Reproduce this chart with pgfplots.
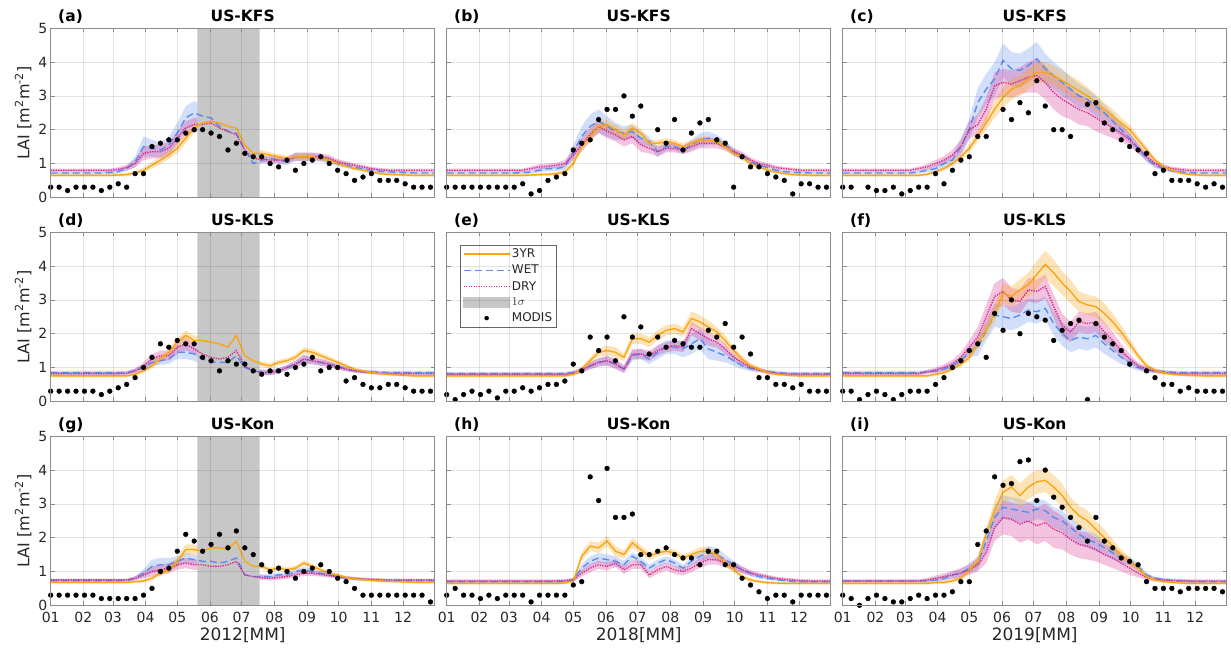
\documentclass[border=0pt]{standalone}
\usepackage{fontspec}
\setmainfont{DejaVu Sans}
\usepackage{pgfplots}
\pgfplotsset{compat=1.18}
\usepackage{pgfplotstable}
\usepgfplotslibrary{groupplots,fillbetween}

\definecolor{cA}{RGB}{250,165,20}
\definecolor{cW}{RGB}{90,140,240}
\definecolor{cD}{RGB}{215,40,140}
\definecolor{tk}{RGB}{38,38,38}
\definecolor{axc}{RGB}{140,140,140}
\newcommand{\fs}[1]{\fontsize{#1bp}{#1bp}\selectfont}

\pgfplotsset{
 legA/.style={legend image code/.code={\draw[cA, line width=1.6bp, solid] (0bp,0bp) -- (46bp,0bp);}},
 legW/.style={legend image code/.code={\draw[cW, line width=1.6bp, dash pattern=on 7bp off 4bp] (0bp,0bp) -- (46bp,0bp);}},
 legD/.style={legend image code/.code={\draw[cD, line width=1.6bp, dash pattern=on 1.3bp off 1.2bp] (0bp,0bp) -- (46bp,0bp);}},
 legS/.style={legend image code/.code={\fill[black!22] (0bp,-5bp) rectangle (46bp,5bp);}},
 legM/.style={legend image code/.code={\fill[black] (23bp,0bp) circle[radius=2bp];}},
 lA/.style={cA, line width=1.4bp},
 lW/.style={cW, line width=1.4bp, dash pattern=on 7bp off 4bp},
 lD/.style={cD, line width=1.4bp, dash pattern=on 1.3bp off 1.2bp},
 mM/.style={only marks, mark=*, mark size=2.4bp, black},
}

% x = day of year; m = MODIS; a = 3YR; w = WET; d = DRY; sa, sw, sd = 1 sigma
\pgfplotstableread{
x m a w d sa sw sd
1 0.3 0.65 0.72 0.80 0.04 0.04 0.05
9 0.3 0.65 0.72 0.80 0.04 0.04 0.05
17 0.2 0.65 0.72 0.80 0.04 0.04 0.05
25 0.3 0.65 0.72 0.80 0.04 0.04 0.05
33 0.3 0.65 0.72 0.80 0.04 0.04 0.05
41 0.3 0.65 0.72 0.80 0.04 0.04 0.05
49 0.2 0.65 0.72 0.80 0.04 0.04 0.05
57 0.3 0.65 0.73 0.80 0.04 0.05 0.05
65 0.4 0.66 0.76 0.83 0.04 0.06 0.06
73 0.3 0.67 0.85 0.88 0.05 0.08 0.08
81 0.7 0.72 1.05 1.00 0.06 0.15 0.12
89 0.7 0.80 1.50 1.30 0.08 0.30 0.20
97 1.5 0.95 1.45 1.35 0.10 0.25 0.20
105 1.6 1.10 1.40 1.35 0.12 0.22 0.20
113 1.7 1.25 1.55 1.45 0.12 0.25 0.20
121 1.7 1.45 1.90 1.75 0.15 0.30 0.20
129 1.9 1.75 2.35 2.05 0.15 0.35 0.20
137 2.0 2.05 2.50 2.15 0.15 0.35 0.20
145 2.0 2.20 2.40 2.15 0.15 0.30 0.20
153 1.9 2.25 2.35 2.20 0.15 0.30 0.20
161 1.8 2.20 2.10 2.05 0.15 0.25 0.20
169 1.4 2.10 1.95 1.95 0.15 0.25 0.20
177 1.6 2.05 1.90 1.85 0.15 0.25 0.20
185 1.3 1.55 1.40 1.40 0.12 0.15 0.15
193 1.2 1.30 1.00 1.15 0.10 0.10 0.10
201 1.2 1.30 1.10 1.12 0.10 0.10 0.10
209 1.0 1.25 1.15 1.10 0.08 0.10 0.10
217 0.9 1.20 1.10 1.10 0.08 0.10 0.10
225 1.1 1.15 1.05 1.10 0.08 0.10 0.10
233 0.8 1.20 1.20 1.20 0.08 0.12 0.12
241 1.0 1.20 1.20 1.20 0.08 0.12 0.12
249 1.1 1.20 1.20 1.20 0.08 0.12 0.12
257 1.2 1.15 1.15 1.20 0.08 0.10 0.10
265 1.0 1.10 1.10 1.15 0.07 0.10 0.10
273 0.8 1.00 1.00 1.05 0.06 0.08 0.08
281 0.7 0.92 0.95 1.00 0.05 0.07 0.07
289 0.5 0.85 0.88 0.95 0.05 0.06 0.06
297 0.6 0.80 0.85 0.90 0.04 0.05 0.06
305 0.7 0.75 0.80 0.85 0.04 0.05 0.05
313 0.5 0.70 0.77 0.82 0.04 0.05 0.05
321 0.5 0.68 0.75 0.80 0.04 0.04 0.05
329 0.5 0.67 0.74 0.80 0.04 0.04 0.05
337 0.4 0.66 0.73 0.80 0.04 0.04 0.05
345 0.3 0.65 0.72 0.80 0.04 0.04 0.05
353 0.3 0.65 0.72 0.80 0.04 0.04 0.05
361 0.3 0.65 0.72 0.80 0.04 0.04 0.05
365 nan 0.65 0.72 0.80 0.04 0.04 0.05
}\tA

\pgfplotstableread{
x m a w d sa sw sd
1 0.3 0.65 0.72 0.80 0.04 0.04 0.05
9 0.3 0.65 0.72 0.80 0.04 0.04 0.05
17 0.3 0.65 0.72 0.80 0.04 0.04 0.05
25 0.3 0.65 0.72 0.80 0.04 0.04 0.05
33 0.3 0.65 0.72 0.80 0.04 0.04 0.05
41 0.3 0.65 0.72 0.80 0.04 0.04 0.05
49 0.3 0.65 0.72 0.80 0.04 0.04 0.05
57 0.3 0.65 0.72 0.80 0.04 0.04 0.05
65 0.3 0.65 0.72 0.80 0.04 0.04 0.05
73 0.4 0.65 0.73 0.80 0.04 0.04 0.05
81 0.1 0.66 0.75 0.85 0.04 0.05 0.06
89 0.2 0.67 0.80 0.90 0.04 0.06 0.08
97 0.5 0.68 0.85 0.92 0.05 0.08 0.08
105 0.6 0.70 0.85 0.95 0.05 0.08 0.08
113 0.7 0.75 0.90 1.00 0.06 0.10 0.10
121 1.4 1.00 1.35 1.25 0.10 0.20 0.15
129 1.6 1.50 1.80 1.55 0.12 0.30 0.20
137 1.7 1.80 2.10 1.85 0.15 0.35 0.20
145 2.3 2.10 2.25 2.10 0.15 0.35 0.20
153 2.6 2.15 2.10 1.95 0.15 0.30 0.20
161 2.6 2.00 1.95 1.85 0.15 0.25 0.20
169 3.0 1.85 1.90 1.70 0.15 0.20 0.20
177 2.4 2.05 1.95 1.80 0.15 0.20 0.20
185 2.7 1.90 1.75 1.55 0.12 0.20 0.20
193 nan 1.60 1.65 1.45 0.10 0.15 0.15
201 2.0 1.60 1.35 1.35 0.10 0.15 0.15
209 1.6 1.65 1.50 1.45 0.10 0.12 0.12
217 2.3 1.60 1.50 1.45 0.10 0.12 0.12
225 1.4 1.50 1.40 1.40 0.10 0.12 0.12
233 1.9 1.60 1.55 1.50 0.10 0.15 0.15
241 2.2 1.70 1.70 1.60 0.10 0.20 0.15
249 2.3 1.70 1.75 1.60 0.10 0.20 0.15
257 1.7 1.65 1.70 1.60 0.10 0.15 0.15
265 1.6 1.50 1.55 1.50 0.10 0.12 0.12
273 0.3 1.30 1.35 1.35 0.08 0.10 0.10
281 1.2 1.20 1.20 1.25 0.08 0.10 0.10
289 0.9 1.00 1.05 1.10 0.06 0.08 0.08
297 0.9 0.90 0.95 1.00 0.05 0.06 0.08
305 0.7 0.80 0.88 0.95 0.05 0.05 0.06
313 0.6 0.75 0.80 0.88 0.04 0.05 0.06
321 0.5 0.70 0.76 0.85 0.04 0.04 0.05
329 0.1 0.67 0.74 0.82 0.04 0.04 0.05
337 0.4 0.66 0.73 0.80 0.04 0.04 0.05
345 0.4 0.65 0.72 0.80 0.04 0.04 0.05
353 0.3 0.65 0.72 0.80 0.04 0.04 0.05
361 0.3 0.65 0.72 0.80 0.04 0.04 0.05
365 nan 0.65 0.72 0.80 0.04 0.04 0.05
}\tB

\pgfplotstableread{
x m a w d sa sw sd
1 0.3 0.65 0.72 0.80 0.04 0.04 0.05
9 0.3 0.65 0.72 0.80 0.04 0.04 0.05
17 nan 0.65 0.72 0.80 0.04 0.04 0.05
25 0.3 0.65 0.72 0.80 0.04 0.04 0.05
33 0.2 0.65 0.72 0.80 0.04 0.04 0.05
41 0.2 0.65 0.72 0.80 0.04 0.04 0.05
49 0.3 0.65 0.72 0.80 0.04 0.04 0.05
57 0.1 0.65 0.72 0.80 0.04 0.04 0.05
65 0.2 0.65 0.72 0.80 0.04 0.04 0.05
73 0.3 0.65 0.75 0.85 0.04 0.05 0.06
81 0.3 0.68 0.80 0.90 0.04 0.06 0.08
89 0.7 0.75 0.85 1.00 0.05 0.10 0.10
97 0.4 0.85 1.00 1.10 0.06 0.12 0.12
105 0.8 1.00 1.10 1.25 0.08 0.15 0.15
113 1.1 1.20 1.50 1.50 0.10 0.25 0.20
121 1.2 1.45 2.00 2.00 0.12 0.30 0.25
129 1.8 1.80 2.80 2.15 0.15 0.45 0.30
137 1.8 2.20 3.20 2.60 0.20 0.45 0.35
145 nan 2.60 3.50 3.30 0.25 0.50 0.40
153 2.6 2.95 4.05 3.40 0.30 0.50 0.40
161 2.3 3.20 3.80 3.35 0.30 0.50 0.40
169 2.8 3.30 3.75 3.45 0.30 0.50 0.40
177 2.5 3.50 3.90 3.55 0.30 0.50 0.45
185 3.45 3.70 4.10 3.60 0.30 0.50 0.50
193 2.7 3.70 3.80 3.40 0.30 0.45 0.50
201 2.0 3.60 3.60 3.10 0.30 0.40 0.50
209 2.0 3.45 3.40 2.90 0.30 0.40 0.50
217 1.8 3.30 3.20 2.75 0.30 0.35 0.45
225 nan 3.15 3.00 2.60 0.30 0.35 0.45
233 2.75 3.00 2.90 2.50 0.25 0.30 0.40
241 2.8 2.80 2.70 2.35 0.25 0.30 0.40
249 2.2 2.60 2.50 2.20 0.20 0.25 0.35
257 2.0 2.40 2.25 2.05 0.20 0.25 0.30
265 1.7 2.20 2.00 1.90 0.15 0.20 0.25
273 1.5 2.00 1.75 1.70 0.15 0.15 0.20
281 1.4 1.70 1.45 1.45 0.12 0.12 0.15
289 1.3 1.40 1.15 1.20 0.10 0.10 0.12
297 0.7 1.10 0.95 1.00 0.08 0.08 0.10
305 0.8 0.90 0.85 0.90 0.06 0.06 0.08
313 0.5 0.80 0.78 0.85 0.05 0.05 0.06
321 0.5 0.72 0.75 0.82 0.04 0.05 0.05
329 0.5 0.68 0.73 0.80 0.04 0.04 0.05
337 0.4 0.66 0.72 0.80 0.04 0.04 0.05
345 0.3 0.65 0.72 0.80 0.04 0.04 0.05
353 0.4 0.65 0.72 0.80 0.04 0.04 0.05
361 0.3 0.65 0.72 0.80 0.04 0.04 0.05
365 nan 0.65 0.72 0.80 0.04 0.04 0.05
}\tC

\pgfplotstableread{
x m a w d sa sw sd
1 0.3 0.75 0.85 0.82 0.04 0.05 0.05
9 0.3 0.75 0.85 0.82 0.04 0.05 0.05
17 0.3 0.75 0.85 0.82 0.04 0.05 0.05
25 0.3 0.75 0.85 0.82 0.04 0.05 0.05
33 0.3 0.75 0.85 0.82 0.04 0.05 0.05
41 0.3 0.75 0.85 0.82 0.04 0.05 0.05
49 0.2 0.75 0.85 0.82 0.04 0.05 0.05
57 0.3 0.75 0.85 0.82 0.04 0.05 0.05
65 0.4 0.75 0.85 0.82 0.04 0.05 0.05
73 0.5 0.75 0.85 0.83 0.04 0.05 0.05
81 0.7 0.80 0.90 0.90 0.05 0.06 0.08
89 1.0 0.90 1.00 1.05 0.06 0.08 0.10
97 1.3 1.05 1.15 1.25 0.08 0.10 0.15
105 1.7 1.25 1.20 1.35 0.10 0.12 0.15
113 1.6 1.45 1.25 1.35 0.10 0.15 0.15
121 1.8 1.75 1.45 1.60 0.12 0.20 0.20
129 1.7 1.95 1.45 1.70 0.15 0.20 0.20
137 1.7 1.80 1.40 1.55 0.15 0.20 0.15
145 1.3 1.80 1.25 1.40 0.12 0.20 0.15
153 1.2 1.75 1.15 1.30 0.12 0.15 0.12
161 0.9 1.70 1.15 1.25 0.12 0.15 0.12
169 1.2 1.60 1.15 1.30 0.12 0.12 0.12
177 1.1 1.95 1.35 1.50 0.15 0.15 0.15
185 1.1 1.35 1.00 1.05 0.10 0.10 0.10
193 0.9 1.20 0.90 0.90 0.10 0.08 0.08
201 0.8 1.10 0.87 0.85 0.08 0.08 0.08
209 0.9 1.05 0.85 0.85 0.08 0.08 0.08
217 0.9 1.15 0.90 0.90 0.08 0.08 0.08
225 0.8 1.20 1.00 1.00 0.08 0.08 0.08
233 1.0 1.30 1.10 1.10 0.08 0.10 0.10
241 1.1 1.50 1.25 1.25 0.10 0.12 0.12
249 1.3 1.45 1.20 1.20 0.10 0.10 0.10
257 0.9 1.35 1.15 1.15 0.08 0.10 0.10
265 1.0 1.25 1.10 1.10 0.08 0.08 0.08
273 1.0 1.15 1.05 1.00 0.07 0.07 0.07
281 0.6 1.05 0.95 0.95 0.06 0.06 0.06
289 0.7 0.95 0.90 0.90 0.05 0.05 0.05
297 0.5 0.90 0.88 0.87 0.04 0.05 0.05
305 0.4 0.85 0.87 0.85 0.04 0.05 0.05
313 0.4 0.82 0.86 0.83 0.04 0.05 0.05
321 0.5 0.80 0.85 0.82 0.04 0.05 0.05
329 0.5 0.78 0.85 0.82 0.04 0.05 0.05
337 0.4 0.77 0.85 0.82 0.04 0.05 0.05
345 0.3 0.75 0.85 0.82 0.04 0.05 0.05
353 0.3 0.75 0.85 0.82 0.04 0.05 0.05
361 0.3 0.75 0.85 0.82 0.04 0.05 0.05
365 nan 0.75 0.85 0.82 0.04 0.05 0.05
}\tD

\pgfplotstableread{
x m a w d sa sw sd
1 0.2 0.75 0.82 0.80 0.04 0.05 0.05
9 0.05 0.75 0.82 0.80 0.04 0.05 0.05
17 0.2 0.75 0.82 0.80 0.04 0.05 0.05
25 0.3 0.75 0.82 0.80 0.04 0.05 0.05
33 0.2 0.75 0.82 0.80 0.04 0.05 0.05
41 0.3 0.75 0.82 0.80 0.04 0.05 0.05
49 0.1 0.75 0.82 0.80 0.04 0.05 0.05
57 0.3 0.75 0.82 0.80 0.04 0.05 0.05
65 0.3 0.75 0.82 0.80 0.04 0.05 0.05
73 0.4 0.75 0.82 0.80 0.04 0.05 0.05
81 0.3 0.75 0.82 0.80 0.04 0.05 0.05
89 0.4 0.75 0.82 0.80 0.04 0.05 0.05
97 0.5 0.75 0.82 0.80 0.04 0.05 0.05
105 0.5 0.75 0.82 0.80 0.04 0.05 0.05
113 0.6 0.75 0.82 0.80 0.04 0.05 0.05
121 1.1 0.80 0.85 0.83 0.05 0.06 0.06
129 0.9 0.95 0.92 0.92 0.08 0.08 0.08
137 1.9 1.20 1.05 1.05 0.10 0.10 0.10
145 1.5 1.45 1.15 1.15 0.12 0.12 0.12
153 1.9 1.50 1.20 1.20 0.15 0.12 0.15
161 1.2 1.45 1.10 1.10 0.15 0.12 0.15
169 2.5 1.30 0.95 0.95 0.12 0.10 0.12
177 1.9 1.85 1.35 1.40 0.15 0.15 0.15
185 2.2 1.85 1.40 1.40 0.15 0.15 0.15
193 1.4 1.75 1.25 1.35 0.15 0.15 0.15
201 1.9 1.95 1.45 1.50 0.15 0.20 0.15
209 1.6 2.10 1.60 1.60 0.15 0.20 0.15
217 1.8 2.15 1.60 1.65 0.15 0.20 0.15
225 1.7 2.05 1.55 1.60 0.15 0.25 0.15
233 1.6 2.45 1.70 2.15 0.20 0.30 0.20
241 1.6 2.35 1.85 2.00 0.20 0.30 0.20
249 2.1 2.20 1.55 1.85 0.20 0.30 0.20
257 1.9 2.05 1.45 1.75 0.15 0.25 0.15
265 2.3 1.80 1.35 1.55 0.15 0.20 0.15
273 1.6 1.50 1.20 1.30 0.12 0.15 0.12
281 1.9 1.25 1.05 1.15 0.10 0.10 0.10
289 1.4 1.05 0.97 1.00 0.08 0.08 0.08
297 0.7 0.95 0.92 0.93 0.06 0.06 0.06
305 0.7 0.85 0.88 0.87 0.05 0.05 0.05
313 0.5 0.80 0.85 0.83 0.04 0.05 0.05
321 0.5 0.78 0.83 0.81 0.04 0.05 0.05
329 0.4 0.76 0.82 0.80 0.04 0.05 0.05
337 0.5 0.75 0.82 0.80 0.04 0.05 0.05
345 0.3 0.75 0.82 0.80 0.04 0.05 0.05
353 0.3 0.75 0.82 0.80 0.04 0.05 0.05
361 0.3 0.75 0.82 0.80 0.04 0.05 0.05
365 nan 0.75 0.82 0.80 0.04 0.05 0.05
}\tE

\pgfplotstableread{
x m a w d sa sw sd
1 0.3 0.75 0.85 0.82 0.04 0.05 0.05
9 0.3 0.75 0.85 0.82 0.04 0.05 0.05
17 0.05 0.75 0.85 0.82 0.04 0.05 0.05
25 0.2 0.75 0.85 0.82 0.04 0.05 0.05
33 0.3 0.75 0.85 0.82 0.04 0.05 0.05
41 0.2 0.75 0.85 0.82 0.04 0.05 0.05
49 0.05 0.75 0.85 0.82 0.04 0.05 0.05
57 0.2 0.75 0.85 0.82 0.04 0.05 0.05
65 0.3 0.75 0.85 0.82 0.04 0.05 0.05
73 0.3 0.75 0.85 0.82 0.04 0.05 0.05
81 0.3 0.75 0.87 0.87 0.04 0.05 0.06
89 0.5 0.80 0.90 0.92 0.05 0.06 0.08
97 0.7 0.85 0.95 1.00 0.05 0.08 0.10
105 1.0 0.95 1.05 1.10 0.06 0.10 0.12
113 1.2 1.10 1.20 1.30 0.08 0.12 0.15
121 1.5 1.30 1.45 1.60 0.10 0.15 0.20
129 1.7 1.70 1.60 1.90 0.15 0.25 0.30
137 1.3 2.10 2.10 2.50 0.20 0.30 0.35
145 2.6 2.60 2.55 3.10 0.25 0.35 0.40
153 2.1 3.20 2.50 3.25 0.30 0.35 0.40
161 3.0 3.10 2.45 3.00 0.30 0.35 0.35
169 2.0 3.30 2.55 2.95 0.30 0.35 0.35
177 2.6 3.45 2.70 3.30 0.35 0.35 0.35
185 2.5 3.75 2.65 3.25 0.40 0.35 0.35
193 2.4 4.05 2.75 3.40 0.40 0.35 0.35
201 1.8 3.80 2.30 2.80 0.40 0.35 0.35
209 2.1 3.50 2.00 2.25 0.35 0.35 0.35
217 2.3 3.25 1.80 2.05 0.35 0.35 0.30
225 2.4 2.95 1.90 2.35 0.30 0.35 0.30
233 0.05 2.85 1.85 2.30 0.30 0.35 0.30
241 2.3 2.80 1.95 2.35 0.30 0.35 0.30
249 1.9 2.60 1.70 2.05 0.30 0.30 0.30
257 1.7 2.35 1.50 1.80 0.25 0.25 0.25
265 1.5 2.05 1.30 1.50 0.20 0.20 0.20
273 1.1 1.70 1.15 1.25 0.15 0.15 0.15
281 nan 1.35 1.00 1.05 0.10 0.10 0.10
289 0.9 1.05 0.93 0.95 0.08 0.08 0.08
297 0.7 0.92 0.90 0.90 0.06 0.06 0.06
305 0.5 0.85 0.88 0.85 0.05 0.05 0.05
313 0.5 0.80 0.86 0.83 0.04 0.05 0.05
321 0.3 0.78 0.85 0.82 0.04 0.05 0.05
329 0.4 0.77 0.85 0.82 0.04 0.05 0.05
337 0.3 0.76 0.85 0.82 0.04 0.05 0.05
345 0.3 0.75 0.85 0.82 0.04 0.05 0.05
353 0.3 0.75 0.85 0.82 0.04 0.05 0.05
361 0.3 0.75 0.85 0.82 0.04 0.05 0.05
365 nan 0.75 0.85 0.82 0.04 0.05 0.05
}\tF

\pgfplotstableread{
x m a w d sa sw sd
1 0.3 0.68 0.73 0.75 0.04 0.04 0.04
9 0.3 0.68 0.73 0.75 0.04 0.04 0.04
17 0.3 0.68 0.73 0.75 0.04 0.04 0.04
25 0.3 0.68 0.73 0.75 0.04 0.04 0.04
33 0.3 0.68 0.73 0.75 0.04 0.04 0.04
41 0.3 0.68 0.73 0.75 0.04 0.04 0.04
49 0.2 0.68 0.73 0.75 0.04 0.04 0.04
57 0.2 0.68 0.73 0.75 0.04 0.04 0.04
65 0.2 0.68 0.73 0.75 0.04 0.04 0.04
73 0.2 0.68 0.73 0.75 0.04 0.04 0.04
81 0.2 0.70 0.80 0.80 0.04 0.06 0.06
89 0.3 0.72 0.95 0.90 0.05 0.12 0.10
97 0.5 0.80 1.15 1.00 0.06 0.20 0.15
105 1.0 0.95 1.20 1.05 0.08 0.20 0.15
113 1.1 1.05 1.20 1.10 0.10 0.20 0.15
121 1.6 1.30 1.30 1.20 0.12 0.15 0.15
129 2.1 1.65 1.40 1.25 0.15 0.15 0.15
137 1.9 1.65 1.35 1.20 0.15 0.15 0.15
145 1.6 1.60 1.30 1.20 0.12 0.15 0.15
153 1.8 1.70 1.30 1.15 0.12 0.15 0.15
161 2.1 1.70 1.25 1.15 0.12 0.15 0.15
169 1.7 1.65 1.30 1.20 0.12 0.15 0.15
177 2.2 1.90 1.40 1.30 0.15 0.15 0.15
185 1.7 1.30 0.90 0.90 0.10 0.08 0.08
193 1.5 1.15 0.85 0.85 0.08 0.07 0.07
201 1.2 1.15 0.85 0.82 0.08 0.07 0.07
209 1.0 1.05 0.85 0.80 0.07 0.07 0.07
217 1.1 1.10 0.90 0.82 0.07 0.07 0.07
225 1.0 1.05 0.90 0.85 0.07 0.07 0.07
233 0.8 1.10 1.00 0.90 0.07 0.08 0.08
241 1.0 1.25 1.05 0.95 0.08 0.08 0.08
249 1.1 1.15 1.00 0.95 0.07 0.08 0.08
257 1.2 1.05 0.95 0.92 0.06 0.07 0.07
265 1.0 0.95 0.90 0.88 0.05 0.06 0.06
273 0.8 0.90 0.85 0.85 0.05 0.05 0.05
281 0.7 0.82 0.80 0.82 0.04 0.05 0.05
289 0.5 0.78 0.78 0.80 0.04 0.04 0.04
297 0.3 0.76 0.76 0.78 0.04 0.04 0.04
305 0.3 0.74 0.75 0.77 0.04 0.04 0.04
313 0.3 0.72 0.74 0.76 0.04 0.04 0.04
321 0.3 0.71 0.73 0.75 0.04 0.04 0.04
329 0.3 0.70 0.73 0.75 0.04 0.04 0.04
337 0.3 0.69 0.73 0.75 0.04 0.04 0.04
345 0.3 0.68 0.73 0.75 0.04 0.04 0.04
353 0.3 0.68 0.73 0.75 0.04 0.04 0.04
361 0.1 0.68 0.73 0.75 0.04 0.04 0.04
365 nan 0.68 0.73 0.75 0.04 0.04 0.04
}\tG

\pgfplotstableread{
x m a w d sa sw sd
1 0.3 0.65 0.70 0.72 0.04 0.04 0.05
9 0.5 0.65 0.70 0.72 0.04 0.04 0.05
17 0.3 0.65 0.70 0.72 0.04 0.04 0.05
25 0.3 0.65 0.70 0.72 0.04 0.04 0.05
33 0.2 0.65 0.70 0.72 0.04 0.04 0.05
41 0.3 0.65 0.70 0.72 0.04 0.04 0.05
49 0.2 0.65 0.70 0.72 0.04 0.04 0.05
57 0.3 0.65 0.70 0.72 0.04 0.04 0.05
65 0.3 0.65 0.70 0.72 0.04 0.04 0.05
73 0.3 0.65 0.70 0.72 0.04 0.04 0.05
81 0.1 0.65 0.70 0.72 0.04 0.04 0.05
89 0.3 0.65 0.70 0.72 0.04 0.04 0.05
97 0.3 0.65 0.70 0.72 0.04 0.04 0.05
105 0.3 0.65 0.70 0.72 0.04 0.04 0.05
113 0.3 0.66 0.71 0.73 0.04 0.04 0.05
121 0.6 0.72 0.75 0.75 0.05 0.06 0.06
129 0.7 1.45 1.10 0.95 0.12 0.12 0.10
137 3.8 1.75 1.30 1.10 0.15 0.15 0.12
145 3.1 1.70 1.40 1.20 0.15 0.15 0.12
153 4.05 1.90 1.35 1.15 0.15 0.15 0.12
161 2.6 1.60 1.30 1.25 0.15 0.15 0.12
169 2.6 1.50 1.20 1.05 0.12 0.12 0.12
177 2.7 1.85 1.45 1.20 0.15 0.12 0.12
185 1.5 1.65 1.30 1.20 0.12 0.12 0.12
193 1.5 1.45 1.10 0.90 0.12 0.10 0.10
201 1.6 1.55 1.25 1.05 0.10 0.10 0.12
209 1.7 1.60 1.35 1.15 0.10 0.10 0.12
217 1.5 1.55 1.25 1.05 0.10 0.10 0.12
225 1.4 1.40 1.10 1.00 0.10 0.10 0.12
233 1.4 1.50 1.30 1.10 0.10 0.12 0.12
241 1.2 1.60 1.45 1.25 0.12 0.15 0.15
249 1.6 1.60 1.55 1.35 0.12 0.20 0.15
257 1.6 1.50 1.50 1.35 0.12 0.20 0.15
265 1.2 1.25 1.35 1.25 0.10 0.15 0.12
273 1.2 1.05 1.20 1.15 0.08 0.12 0.12
281 0.8 0.85 1.05 1.05 0.06 0.10 0.10
289 0.6 0.75 0.95 0.95 0.05 0.08 0.08
297 0.4 0.70 0.85 0.90 0.04 0.06 0.07
305 0.2 0.67 0.80 0.85 0.04 0.05 0.06
313 0.3 0.66 0.76 0.80 0.04 0.04 0.05
321 0.3 0.65 0.73 0.77 0.04 0.04 0.05
329 0.1 0.65 0.71 0.75 0.04 0.04 0.05
337 0.3 0.65 0.70 0.73 0.04 0.04 0.05
345 0.3 0.65 0.70 0.72 0.04 0.04 0.05
353 0.3 0.65 0.70 0.72 0.04 0.04 0.05
361 0.3 0.65 0.70 0.72 0.04 0.04 0.05
365 nan 0.65 0.70 0.72 0.04 0.04 0.05
}\tH

\pgfplotstableread{
x m a w d sa sw sd
1 0.3 0.65 0.72 0.72 0.04 0.04 0.05
9 0.2 0.65 0.72 0.72 0.04 0.04 0.05
17 0.0 0.65 0.72 0.72 0.04 0.04 0.05
25 0.2 0.65 0.72 0.72 0.04 0.04 0.05
33 0.3 0.65 0.72 0.72 0.04 0.04 0.05
41 0.2 0.65 0.72 0.72 0.04 0.04 0.05
49 0.1 0.65 0.72 0.72 0.04 0.04 0.05
57 0.1 0.65 0.72 0.72 0.04 0.04 0.05
65 0.2 0.65 0.72 0.72 0.04 0.04 0.05
73 0.3 0.65 0.72 0.72 0.04 0.04 0.05
81 0.2 0.65 0.72 0.75 0.04 0.05 0.06
89 0.3 0.67 0.75 0.80 0.04 0.06 0.08
97 0.3 0.68 0.80 0.85 0.05 0.08 0.10
105 0.4 0.72 0.90 0.90 0.05 0.10 0.12
113 0.7 0.80 0.95 0.95 0.06 0.12 0.15
121 0.7 1.05 1.10 1.05 0.08 0.15 0.15
129 1.8 1.30 1.25 1.20 0.12 0.20 0.20
137 2.2 2.10 1.90 1.55 0.20 0.30 0.30
145 3.8 2.80 2.60 2.30 0.30 0.35 0.40
153 3.55 3.35 2.90 2.60 0.35 0.35 0.50
161 3.6 3.50 2.85 2.55 0.35 0.35 0.50
169 4.25 3.25 2.80 2.40 0.35 0.35 0.55
177 4.3 3.50 2.75 2.50 0.35 0.30 0.55
185 3.1 3.65 2.85 2.35 0.35 0.30 0.55
193 4.0 3.70 2.80 2.45 0.35 0.30 0.55
201 3.2 3.50 2.60 2.25 0.35 0.30 0.55
209 2.9 3.25 2.50 2.15 0.35 0.30 0.50
217 2.6 2.90 2.30 1.95 0.30 0.30 0.45
225 2.3 2.65 2.10 1.80 0.30 0.30 0.40
233 1.9 2.50 1.95 1.75 0.30 0.25 0.40
241 2.6 2.25 1.85 1.65 0.25 0.25 0.35
249 1.9 2.00 1.70 1.50 0.25 0.20 0.30
257 1.7 1.75 1.55 1.40 0.20 0.20 0.30
265 1.4 1.50 1.40 1.25 0.15 0.15 0.25
273 1.3 1.30 1.30 1.10 0.12 0.12 0.20
281 1.2 1.10 1.15 0.95 0.10 0.10 0.12
289 0.7 0.85 0.90 0.82 0.06 0.06 0.08
297 0.5 0.75 0.80 0.77 0.05 0.05 0.06
305 0.5 0.70 0.76 0.75 0.04 0.05 0.05
313 0.5 0.68 0.73 0.74 0.04 0.04 0.05
321 0.4 0.66 0.72 0.73 0.04 0.04 0.05
329 0.5 0.65 0.71 0.72 0.04 0.04 0.05
337 0.5 0.65 0.70 0.72 0.04 0.04 0.05
345 0.5 0.65 0.70 0.72 0.04 0.04 0.05
353 0.5 0.65 0.70 0.72 0.04 0.04 0.05
361 0.4 0.65 0.70 0.72 0.04 0.04 0.05
365 nan 0.65 0.70 0.72 0.04 0.04 0.05
}\tI

\newcommand{\lpanel}[1]{%
 \addplot[name path=wU, draw=none, forget plot] table[x=x, y expr=\thisrow{w}+\thisrow{sw}]{#1};
 \addplot[name path=wL, draw=none, forget plot] table[x=x, y expr=\thisrow{w}-\thisrow{sw}]{#1};
 \addplot[fill=cW, fill opacity=0.28, draw=none, forget plot] fill between[of=wU and wL];
 \addplot[name path=dU, draw=none, forget plot] table[x=x, y expr=\thisrow{d}+\thisrow{sd}]{#1};
 \addplot[name path=dL, draw=none, forget plot] table[x=x, y expr=\thisrow{d}-\thisrow{sd}]{#1};
 \addplot[fill=cD, fill opacity=0.28, draw=none, forget plot] fill between[of=dU and dL];
 \addplot[name path=aU, draw=none, forget plot] table[x=x, y expr=\thisrow{a}+\thisrow{sa}]{#1};
 \addplot[name path=aL, draw=none, forget plot] table[x=x, y expr=\thisrow{a}-\thisrow{sa}]{#1};
 \addplot[fill=cA, fill opacity=0.3, draw=none, forget plot] fill between[of=aU and aL];
 \addplot[lW, forget plot] table[x=x, y=w]{#1};
 \addplot[lD, forget plot] table[x=x, y=d]{#1};
 \addplot[lA, forget plot] table[x=x, y=a]{#1};
 \addplot[mM, forget plot] table[x=x, y=m]{#1};
}
\newcommand{\sigshade}{\addplot[fill=black!22, draw=none, forget plot] coordinates {(140,0) (140,5) (199,5) (199,0)} \closedcycle;}
\newcommand{\ptitle}[2]{%
 \node[anchor=base west, font=\bfseries\fs{15.5}, xshift=4bp, yshift=6.6bp] at (rel axis cs:0,1) {#1};
 \node[anchor=base, font=\bfseries\fs{15.5}, yshift=6.6bp] at (rel axis cs:0.5,1) {#2};}

\begin{document}
\begin{tikzpicture}
\begin{groupplot}[
  group style={group size=3 by 3, horizontal sep=12bp, vertical sep=35bp},
  width=384bp, height=169bp, scale only axis,
  xmin=1, xmax=365, ymin=0, ymax=5,
  xtick={1,32,60,91,121,152,182,213,244,274,305,335},
  ytick={0,1,2,3,4,5},
  xticklabels={}, yticklabels={},
  grid=major, grid style={black, opacity=0.1, line width=0.5bp},
  axis line style={axc, line width=0.6bp},
  tick style={axc, line width=0.6bp}, tick align=inside, major tick length=4bp,
  tick label style={font=\fs{14}, text=tk},
  xticklabel style={yshift=-3bp},
  xlabel style={font=\fs{17}, text=tk, yshift=2bp},
  ylabel style={font=\fs{16}, text=tk},
  axis on top, clip=false,
]
\nextgroupplot[yticklabels={0,1,2,3,4,5}, ylabel={LAI [m\textsuperscript{2}m\textsuperscript{-2}]}]
\sigshade \lpanel{\tA} \ptitle{(a)}{US-KFS}
\nextgroupplot
\lpanel{\tB} \ptitle{(b)}{US-KFS}
\nextgroupplot
\lpanel{\tC} \ptitle{(c)}{US-KFS}
\nextgroupplot[yticklabels={0,1,2,3,4,5}, ylabel={LAI [m\textsuperscript{2}m\textsuperscript{-2}]}]
\sigshade \lpanel{\tD} \ptitle{(d)}{US-KLS}
\nextgroupplot[legend style={at={(0.035,0.927)}, anchor=north west, font=\fs{12}, text=tk, draw=black!60, fill=white, row sep=3bp, inner sep=2.5bp, nodes={inner sep=1.5bp}}, legend cell align=left]
\lpanel{\tE} \ptitle{(e)}{US-KLS}
\addlegendimage{legA}\addlegendentry{3YR}
\addlegendimage{legW}\addlegendentry{WET}
\addlegendimage{legD}\addlegendentry{DRY}
\addlegendimage{legS}\addlegendentry{$1\sigma$}
\addlegendimage{legM}\addlegendentry{MODIS}
\nextgroupplot
\lpanel{\tF} \ptitle{(f)}{US-KLS}
\nextgroupplot[xticklabels={01,02,03,04,05,06,07,08,09,10,11,12}, xlabel={2012[MM]}, yticklabels={0,1,2,3,4,5}, ylabel={LAI [m\textsuperscript{2}m\textsuperscript{-2}]}]
\sigshade \lpanel{\tG} \ptitle{(g)}{US-Kon}
\nextgroupplot[xticklabels={01,02,03,04,05,06,07,08,09,10,11,12}, xlabel={2018[MM]}]
\lpanel{\tH} \ptitle{(h)}{US-Kon}
\nextgroupplot[xticklabels={01,02,03,04,05,06,07,08,09,10,11,12}, xlabel={2019[MM]}]
\lpanel{\tI} \ptitle{(i)}{US-Kon}
\end{groupplot}
\pgfresetboundingbox
\path (group c1r1.north west) ++(-50.7bp,28.3bp) rectangle ++(1231bp,-655bp);
\end{tikzpicture}
\end{document}
